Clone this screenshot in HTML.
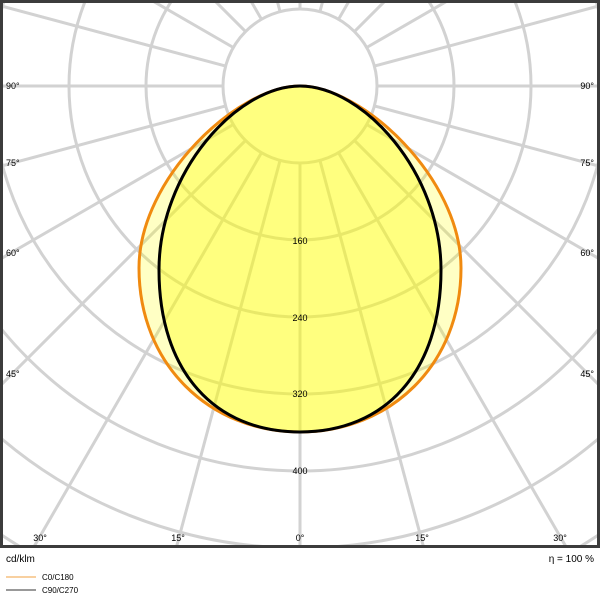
<!DOCTYPE html>
<html><head><style>
html,body{margin:0;background:#fff;width:600px;height:600px;overflow:hidden;}
svg{display:block;font-family:"Liberation Sans",Arial,sans-serif;}
</style></head><body>
<svg width="600" height="600" viewBox="0 0 600 600">
<defs><clipPath id="c"><rect x="3" y="3" width="594" height="543"/></clipPath></defs>
<g clip-path="url(#c)">
<g fill="none" stroke="#d2d2d2" stroke-width="3">
<circle cx="300" cy="86" r="77"/><circle cx="300" cy="86" r="154"/><circle cx="300" cy="86" r="231"/>
<circle cx="300" cy="86" r="308"/><circle cx="300" cy="86" r="385"/><circle cx="300" cy="86" r="462"/>
<circle cx="300" cy="86" r="539"/><circle cx="300" cy="86" r="616"/><circle cx="300" cy="86" r="693"/>
</g>
<g stroke="#d2d2d2" stroke-width="3">
<line x1="300" y1="163" x2="300" y2="1000" transform="rotate(0 300 86)"/>
<line x1="300" y1="163" x2="300" y2="1000" transform="rotate(15 300 86)"/>
<line x1="300" y1="163" x2="300" y2="1000" transform="rotate(30 300 86)"/>
<line x1="300" y1="163" x2="300" y2="1000" transform="rotate(45 300 86)"/>
<line x1="300" y1="163" x2="300" y2="1000" transform="rotate(60 300 86)"/>
<line x1="300" y1="163" x2="300" y2="1000" transform="rotate(75 300 86)"/>
<line x1="300" y1="163" x2="300" y2="1000" transform="rotate(90 300 86)"/>
<line x1="300" y1="163" x2="300" y2="1000" transform="rotate(105 300 86)"/>
<line x1="300" y1="163" x2="300" y2="1000" transform="rotate(120 300 86)"/>
<line x1="300" y1="163" x2="300" y2="1000" transform="rotate(135 300 86)"/>
<line x1="300" y1="163" x2="300" y2="1000" transform="rotate(150 300 86)"/>
<line x1="300" y1="163" x2="300" y2="1000" transform="rotate(165 300 86)"/>
<line x1="300" y1="163" x2="300" y2="1000" transform="rotate(180 300 86)"/>
<line x1="300" y1="163" x2="300" y2="1000" transform="rotate(195 300 86)"/>
<line x1="300" y1="163" x2="300" y2="1000" transform="rotate(210 300 86)"/>
<line x1="300" y1="163" x2="300" y2="1000" transform="rotate(225 300 86)"/>
<line x1="300" y1="163" x2="300" y2="1000" transform="rotate(240 300 86)"/>
<line x1="300" y1="163" x2="300" y2="1000" transform="rotate(255 300 86)"/>
<line x1="300" y1="163" x2="300" y2="1000" transform="rotate(270 300 86)"/>
<line x1="300" y1="163" x2="300" y2="1000" transform="rotate(285 300 86)"/>
<line x1="300" y1="163" x2="300" y2="1000" transform="rotate(300 300 86)"/>
<line x1="300" y1="163" x2="300" y2="1000" transform="rotate(315 300 86)"/>
<line x1="300" y1="163" x2="300" y2="1000" transform="rotate(330 300 86)"/>
<line x1="300" y1="163" x2="300" y2="1000" transform="rotate(345 300 86)"/>
</g>
<path fill="rgba(255,255,0,0.23)" stroke="#f08a10" stroke-width="3" d="M300,86 C238,86 139,178 139,268 C139,365 210,432 300,432 C390,432 461,365 461,268 C461,178 362,86 300,86Z"/>
<path fill="rgba(255,255,0,0.35)" stroke="#000" stroke-width="3" d="M300,86 C237,86 159,172 159,270 C159,372 215,432 300,432 C385,432 441,372 441,270 C441,172 363,86 300,86Z"/>
</g>
<rect x="1.5" y="1.5" width="597" height="545" fill="none" stroke="#3c3c3c" stroke-width="3"/>
<g font-size="9" fill="#000">
<text x="6" y="89">90°</text><text x="594" y="89" text-anchor="end">90°</text>
<text x="6" y="166">75°</text><text x="594" y="166" text-anchor="end">75°</text>
<text x="6" y="256">60°</text><text x="594" y="256" text-anchor="end">60°</text>
<text x="6" y="377">45°</text><text x="594" y="377" text-anchor="end">45°</text>
<text x="40" y="541" text-anchor="middle">30°</text><text x="560" y="541" text-anchor="middle">30°</text>
<text x="178" y="541" text-anchor="middle">15°</text><text x="422" y="541" text-anchor="middle">15°</text>
<text x="300" y="541" text-anchor="middle">0°</text>
<text x="300" y="244" text-anchor="middle">160</text>
<text x="300" y="321" text-anchor="middle">240</text>
<text x="300" y="397" text-anchor="middle">320</text>
<text x="300" y="474" text-anchor="middle">400</text>
</g>
<text x="6" y="562" font-size="10">cd/klm</text>
<text x="594" y="562" font-size="10" text-anchor="end">η = 100 %</text>
<line x1="6" y1="577" x2="36" y2="577" stroke="#f0a040" stroke-width="1"/>
<line x1="6" y1="590" x2="36" y2="590" stroke="#333" stroke-width="1"/>
<text x="42" y="580" font-size="8">C0/C180</text>
<text x="42" y="593" font-size="8">C90/C270</text>
</svg>
</body></html>
